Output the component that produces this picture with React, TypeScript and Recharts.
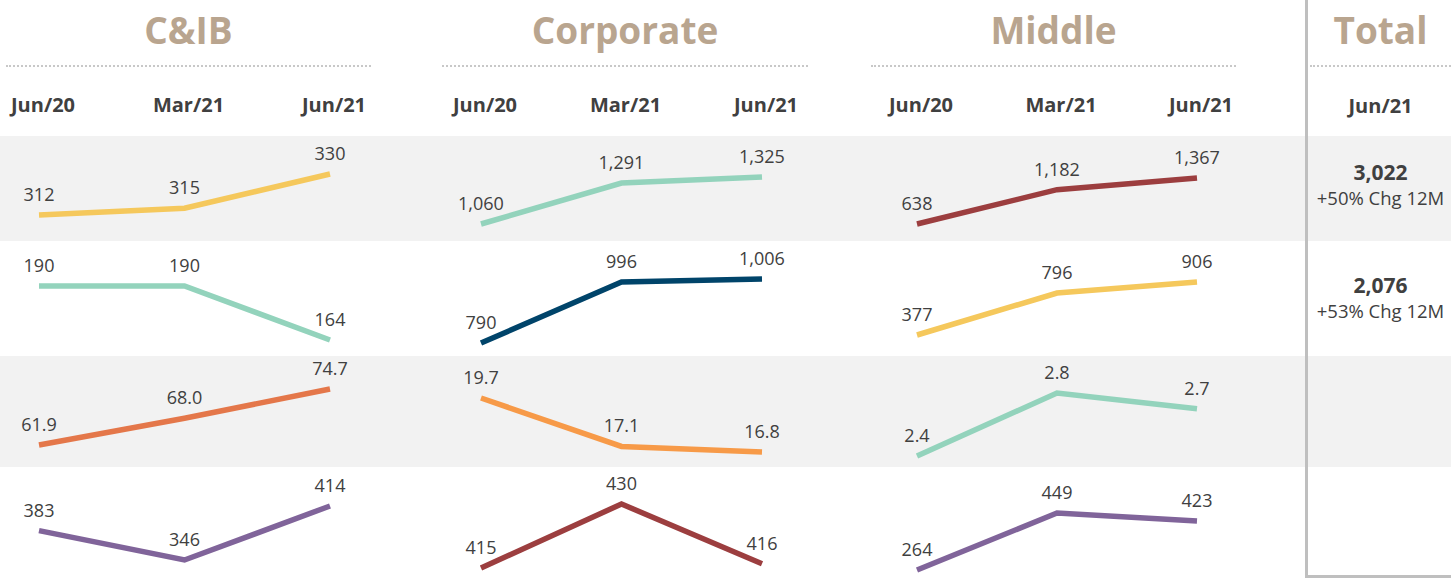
import { LineChart, Line, XAxis, YAxis, LabelList } from "recharts";

const periods = ["Jun/20", "Mar/21", "Jun/21"];
const segments = ["C&IB", "Corporate", "Middle"];

// one list per segment, one row per metric
const cibValues = [
  [312, 315, 330],
  [190, 190, 164],
  [61.9, 68.0, 74.7],
  [383, 346, 414],
];
const corporateValues = [
  [1060, 1291, 1325],
  [790, 996, 1006],
  [19.7, 17.1, 16.8],
  [415, 430, 416],
];
const middleValues = [
  [638, 1182, 1367],
  [377, 796, 906],
  [2.4, 2.8, 2.7],
  [264, 449, 423],
];
const totalLabel = "Total";
const totalPeriod = "Jun/21";
const totalValues = ["3,022", "2,076"];
const totalChanges = ["+50% Chg 12M", "+53% Chg 12M"];

const MINT = "#93D3BC";
const YELLOW = "#F5C85C";
const RED = "#9C3E3F";
const NAVY = "#00446A";
const CORAL = "#E4774A";
const ORANGE = "#F79A48";
const PURPLE = "#80649A";

const lineColors = [
  [YELLOW, MINT, RED],
  [MINT, NAVY, YELLOW],
  [CORAL, ORANGE, MINT],
  [PURPLE, RED, PURPLE],
];

const FONT = "'Open Sans', sans-serif";
const TEXT = "#404040";
const TITLE = "#B9A58F";
const GRAY_BAND = "#F2F2F2";

// layout
const columns = [
  { x0: 39, x1: 330, dotL: 6, dotR: 371 },
  { x0: 481, x1: 762, dotL: 442, dotR: 808 },
  { x0: 917, x1: 1197, dotL: 871, dotR: 1236 },
];
const rows = [
  { top: 136, h: 105, bg: GRAY_BAND },
  { top: 241, h: 115, bg: "#FFFFFF" },
  { top: 356, h: 111, bg: GRAY_BAND },
  { top: 467, h: 111, bg: "#FFFFFF" },
];
// plot insets (top, bottom) inside each small chart, like the separately scaled source charts
const insets = [
  [[38, 26], [41, 17], [42, 17]],
  [[45, 16], [38, 13], [41, 21]],
  [[33, 22], [42, 15], [37, 11]],
  [[39, 18], [37, 10], [46, 8]],
];
const SIDE = 40;

const allValues = [cibValues, corporateValues, middleValues];

function fmt(row: number) {
  return (v: any) =>
    row === 2 ? Number(v).toFixed(1) : Number(v).toLocaleString("en-US");
}

function Cell({ col, row }: { col: number; row: number }) {
  const c = columns[col];
  const r = rows[row];
  const [mt, mb] = insets[row][col];
  const data = periods.map((p, i) => ({ period: p, v: allValues[col][row][i] }));
  return (
    <div style={{ position: "absolute", left: c.x0 - SIDE, top: r.top }}>
      <LineChart
        width={c.x1 - c.x0 + SIDE * 2}
        height={r.h}
        data={data}
        margin={{ top: mt, right: SIDE, bottom: mb, left: SIDE }}
      >
        <XAxis dataKey="period" type="category" scale="point" hide />
        <YAxis type="number" domain={["dataMin", "dataMax"]} hide />
        <Line
          dataKey="v"
          stroke={lineColors[row][col]}
          strokeWidth={5.5}
          dot={false}
          activeDot={false}
          isAnimationActive={false}
        >
          <LabelList
            dataKey="v"
            position="top"
            offset={14}
            formatter={fmt(row)}
            fill={TEXT}
            fontSize={18}
          />
        </Line>
      </LineChart>
    </div>
  );
}

function Header({ col }: { col: number }) {
  const c = columns[col];
  const data = periods.map((p, i) => ({ period: p, v: allValues[col][0][i] }));
  return (
    <>
      <div
        style={{
          position: "absolute",
          left: c.dotL,
          width: c.dotR - c.dotL,
          top: 6,
          textAlign: "center",
          fontSize: 37,
          fontWeight: 700,
          color: TITLE,
          lineHeight: "48px",
        }}
      >
        {segments[col]}
      </div>
      <div
        style={{
          position: "absolute",
          left: c.dotL,
          width: c.dotR - c.dotL,
          top: 65,
          borderTop: "2px dotted #C8C8C8",
        }}
      />
      <div style={{ position: "absolute", left: c.x0 - SIDE, top: 68 }}>
        <LineChart
          width={c.x1 - c.x0 + SIDE * 2}
          height={60}
          data={data}
          margin={{ top: 5, right: SIDE, bottom: 0, left: SIDE }}
        >
          <XAxis
            dataKey="period"
            type="category"
            scale="point"
            height={30}
            axisLine={false}
            tickLine={false}
            tickSize={0}
            tickMargin={0}
            interval={0}
            tick={{ fill: TEXT, fontSize: 20, fontWeight: 700, fontFamily: FONT, dx: 4 }}
          />
          <YAxis hide />
          <Line dataKey="v" stroke="none" dot={false} isAnimationActive={false} />
        </LineChart>
      </div>
    </>
  );
}

export default function App() {
  return (
    <div
      style={{
        position: "absolute",
        left: 0,
        top: 0,
        width: 1451,
        height: 578,
        overflow: "hidden",
        background: "#FFFFFF",
        fontFamily: FONT,
      }}
    >
      {rows.map((r, i) => (
        <div
          key={i}
          style={{ position: "absolute", left: 0, width: 1451, top: r.top, height: r.h, background: r.bg }}
        />
      ))}

      {columns.map((_, col) => (
        <Header key={col} col={col} />
      ))}
      {columns.map((_, col) =>
        rows.map((_, row) => <Cell key={`${col}-${row}`} col={col} row={row} />)
      )}

      {/* total panel */}
      <div
        style={{
          position: "absolute",
          left: 1305,
          top: 0,
          width: 160,
          height: 575,
          borderLeft: "3px solid #BFBFBF",
          borderBottom: "3px solid #BFBFBF",
        }}
      />
      <div
        style={{
          position: "absolute",
          left: 1310,
          width: 141,
          top: 6,
          textAlign: "center",
          fontSize: 37,
          fontWeight: 700,
          color: TITLE,
          lineHeight: "48px",
        }}
      >
        {totalLabel}
      </div>
      <div
        style={{ position: "absolute", left: 1310, width: 141, top: 65, borderTop: "2px dotted #C8C8C8" }}
      />
      <div
        style={{
          position: "absolute",
          left: 1310,
          width: 141,
          top: 92,
          textAlign: "center",
          fontSize: 20,
          fontWeight: 700,
          color: TEXT,
          lineHeight: "28px",
        }}
      >
        {totalPeriod}
      </div>
      {totalValues.map((t, i) => (
        <div
          key={t}
          style={{
            position: "absolute",
            left: 1310,
            width: 141,
            top: rows[i].top + (i === 0 ? 22 : 30),
            textAlign: "center",
            color: TEXT,
          }}
        >
          <div style={{ fontSize: 21, fontWeight: 700, lineHeight: "28px" }}>{t}</div>
          <div style={{ fontSize: 18.5, lineHeight: "24px", whiteSpace: "nowrap" }}>{totalChanges[i]}</div>
        </div>
      ))}
    </div>
  );
}
